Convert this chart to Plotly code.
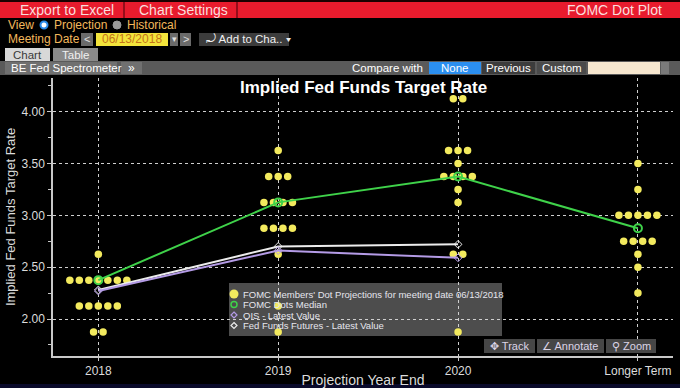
import plotly.graph_objects as go

# ---------------- data ----------------
categories = ["2018", "2019", "2020", "Longer Term"]
dots_2018 = [2.625, 2.375, 2.375, 2.375, 2.375, 2.375, 2.375, 2.375,
             2.125, 2.125, 2.125, 2.125, 2.125, 1.875, 1.875]
dots_2019 = [3.625, 3.375, 3.375, 3.375, 3.125, 3.125, 3.125, 3.125,
             2.875, 2.875, 2.875, 2.875, 2.625, 2.125, 1.875]
dots_2020 = [4.125, 4.125, 3.625, 3.625, 3.625, 3.5, 3.375, 3.375, 3.375, 3.375,
             3.25, 3.125, 2.625, 2.625, 1.875]
dots_longer = [3.5, 3.25, 3.0, 3.0, 3.0, 3.0, 3.0, 2.75, 2.75, 2.75, 2.75,
               2.625, 2.5, 2.25]
median_values = [2.375, 3.125, 3.375, 2.875]
ois_values = [2.27, 2.66, 2.59]
fff_values = [2.28, 2.70, 2.72]
ytick_values = [2.0, 2.5, 3.0, 3.5, 4.0]

legend_labels = ["FOMC Members' Dot Projections for meeting date 06/13/2018",
                 "FOMC Dots Median", "OIS - Latest Value",
                 "Fed Funds Futures - Latest Value"]

# ---------------- geometry ----------------
W, H = 680, 388
L, R, T, B = 53, 7, 78, 32
PW, PH = W - L - R, H - T - B
X_RANGE = [-0.252, 3.195]
Y_RANGE = [1.643, 4.325]
STEP = 9.5 * (X_RANGE[1] - X_RANGE[0]) / PW  # horizontal spacing of dots

def px(x):
    return (x - L) / PW

def py(y):
    return 1 - (y - T) / PH

FONT = "Liberation Sans"
YELLOW = "#f3ea5e"
GREEN = "#3fd24a"
WHITE_LINE = "#ececec"
PURPLE = "#b49be6"

# ---------------- dot positions ----------------
dot_x, dot_y = [], []
for ci, vals in enumerate([dots_2018, dots_2019, dots_2020, dots_longer]):
    counts = {}
    for v in vals:
        counts[v] = counts.get(v, 0) + 1
    for v, n in counts.items():
        for i in range(n):
            dot_x.append(ci + (i - (n - 1) / 2) * STEP)
            dot_y.append(v)

fig = go.Figure()
fig.add_trace(go.Scatter(x=dot_x, y=dot_y, mode="markers",
                         marker=dict(color=YELLOW, size=7.5, line=dict(width=0)),
                         name=legend_labels[0], hoverinfo="y"))
fig.add_trace(go.Scatter(x=list(range(3)), y=fff_values, mode="lines+markers",
                         line=dict(color=WHITE_LINE, width=2),
                         marker=dict(symbol="diamond-open", size=6, color=WHITE_LINE),
                         name=legend_labels[3]))
fig.add_trace(go.Scatter(x=list(range(3)), y=ois_values, mode="lines+markers",
                         line=dict(color=PURPLE, width=2),
                         marker=dict(symbol="diamond-open", size=6, color=PURPLE),
                         name=legend_labels[2]))
fig.add_trace(go.Scatter(x=list(range(4)), y=median_values, mode="lines+markers",
                         line=dict(color=GREEN, width=2),
                         marker=dict(symbol="circle-open", size=8, color=GREEN,
                                     line=dict(width=2)),
                         name=legend_labels[1]))

shapes = []
annotations = []

def rect(x0, y0, x1, y1, fill, line_color=None, layer="above"):
    shapes.append(dict(type="rect", xref="paper", yref="paper",
                       x0=px(x0), x1=px(x1), y0=py(y1), y1=py(y0),
                       fillcolor=fill, layer=layer,
                       line=dict(width=1 if line_color else 0,
                                 color=line_color or fill)))

def text(x, y, s, color="#ffffff", size=12, anchor="left", bold=False, family=FONT):
    if bold:
        s = "<b>" + s + "</b>"
    annotations.append(dict(xref="paper", yref="paper", x=px(x), y=py(y),
                            xanchor=anchor, yanchor="middle", text=s,
                            showarrow=False,
                            font=dict(color=color, size=size, family=family)))

def circle(x, y, r, fill, line_color, lw=1):
    shapes.append(dict(type="circle", xref="paper", yref="paper",
                       xsizemode="pixel", ysizemode="pixel",
                       xanchor=px(x), yanchor=py(y),
                       x0=-r, x1=r, y0=-r, y1=r,
                       fillcolor=fill, line=dict(color=line_color, width=lw)))

def diamond(x, y, r, color):
    shapes.append(dict(type="path", xref="paper", yref="paper",
                       xsizemode="pixel", ysizemode="pixel",
                       xanchor=px(x), yanchor=py(y),
                       path=f"M 0 {r} L {r} 0 L 0 {-r} L {-r} 0 Z",
                       fillcolor="rgba(0,0,0,0)", line=dict(color=color, width=1.2)))

# ---------------- header UI ----------------
rect(0, 0, 680, 2, "#1a0000")
rect(0, 2, 680, 18, "#e81b2d")
shapes.append(dict(type="line", xref="paper", yref="paper", x0=px(124), x1=px(124),
                   y0=py(2), y1=py(18), line=dict(color="#7a0a14", width=1.5)))
shapes.append(dict(type="line", xref="paper", yref="paper", x0=px(237), x1=px(237),
                   y0=py(2), y1=py(18), line=dict(color="#7a0a14", width=1.5)))
text(18, 10.5, "Export to Excel", "#fbdede", 14)
text(137, 10.5, "Chart Settings", "#fbdede", 14)
text(664, 10.5, "FOMC Dot Plot", "#fbdede", 14, anchor="right")

AMBER = "#f3b85c"
text(6, 25, "View", AMBER, 12)
circle(44, 25, 3.5, "#ffffff", "#2a8ae8", 2)
text(52, 25, "Projection", AMBER, 12)
circle(117, 25, 4, "#9a9a9a", "#9a9a9a", 1)
text(125, 25, "Historical", AMBER, 12)

text(6, 39, "Meeting Date", AMBER, 12)
rect(81, 33, 93, 46, "#6a6a6a")
text(87, 39.5, "&lt;", "#e0e0e0", 11, anchor="center")
rect(96, 33, 168, 46, "#f3e43c")
text(132, 39.5, "06/13/2018", "#c4741a", 12, anchor="center")
rect(170, 33, 178, 46, "#6a6a6a")
text(174, 39.5, "▾", "#e0e0e0", 9, anchor="center")
rect(180, 33, 191, 46, "#6a6a6a")
text(185.5, 39.5, "&gt;", "#e0e0e0", 11, anchor="center")
rect(199, 33, 289, 46, "#3c3c3c")
text(204, 39.5, "⤾ Add to Cha.. ▾", "#f0f0f0", 11.5)

rect(5, 48, 50, 61, "#d8d8d8")
text(27.5, 54.5, "Chart", "#3a3a3a", 11.5, anchor="center")
rect(53, 48, 98, 61, "#8a8a8a")
text(75.5, 54.5, "Table", "#f0f0f0", 11.5, anchor="center")

rect(0, 61, 680, 75, "#5a5a5a")
rect(5, 62, 117, 74, "#707070")
text(9, 68, "BE Fed Spectrometer", "#ffffff", 11.5)
rect(121, 62, 142, 74, "#707070")
text(131.5, 68, "»", "#ffffff", 12, anchor="center")
text(350, 68, "Compare with", "#ffffff", 11.5)
rect(429, 62, 481, 74, "#2b8ff0")
text(455, 68, "None", "#ffffff", 11.5, anchor="center")
rect(482, 62, 535, 74, "#3c3c3c")
text(508.5, 68, "Previous", "#ffffff", 11.5, anchor="center")
rect(537, 62, 586, 74, "#4a4a4a")
text(561.5, 68, "Custom", "#ffffff", 11.5, anchor="center")
rect(588, 62, 660, 74, "#f6e7cf")
rect(661, 62, 669, 74, "#7a7a7a")

# ---------------- chart title ----------------
text(363, 87, "Implied Fed Funds Target Rate", "#ffffff", 17, anchor="center", bold=True)

# ---------------- legend (manual) ----------------
rect(229, 283, 502, 336, "rgba(85,85,85,0.9)", layer="below")
legend_rows = [294, 304.5, 315, 325.5]
circle(234, legend_rows[0], 4.5, YELLOW, YELLOW, 0)
circle(234, legend_rows[1], 3, "rgba(0,0,0,0)", GREEN, 1.5)
diamond(234, legend_rows[2], 3, PURPLE)
diamond(234, legend_rows[3], 3, WHITE_LINE)
for yrow, lab in zip(legend_rows, legend_labels):
    text(241, yrow, lab, "#e6e6ee", 9.5)

# ---------------- Track / Annotate / Zoom ----------------
for x0, x1, lab in [(484, 535, "✥ Track"), (537, 604, "∠ Annotate"), (606, 656, "⚲ Zoom")]:
    rect(x0, 339, x1, 353, "#464646")
    text((x0 + x1) / 2, 346, lab, "#dcd4e6", 11, anchor="center")

# bottom strip
rect(0, 384, 680, 388, "#0a0a2a")

fig.update_layout(
    width=W, height=H,
    margin=dict(l=L, r=R, t=T, b=B, autoexpand=False),
    paper_bgcolor="#000000", plot_bgcolor="#000000",
    showlegend=False,
    shapes=shapes, annotations=annotations,
    font=dict(family=FONT, color="#d8d8d8"),
    xaxis=dict(range=X_RANGE, tickvals=list(range(len(categories))), ticktext=categories,
               showgrid=True, gridcolor="#cfcfcf", griddash="dot", gridwidth=1,
               zeroline=False, showline=True, linecolor="#c8c8c8", linewidth=1.5,
               ticks="outside", ticklen=3, tickcolor="#c8c8c8",
               tickfont=dict(size=12, color="#dcdcdc"),
               title=dict(text="Projection Year End", font=dict(size=14, color="#dcdcdc"),
                          standoff=1)),
    yaxis=dict(range=Y_RANGE, tickvals=ytick_values, tickformat=".2f",
               showgrid=True, gridcolor="#cfcfcf", griddash="dot", gridwidth=1,
               zeroline=False, showline=True, linecolor="#c8c8c8", linewidth=1.5,
               ticks="outside", ticklen=4, tickcolor="#c8c8c8",
               minor=dict(dtick=0.25, tick0=0, ticks="outside", ticklen=3,
                          tickcolor="#c8c8c8", showgrid=False),
               tickfont=dict(size=12, color="#dcdcdc"),
               title=dict(text="Implied Fed Funds Target Rate",
                          font=dict(size=13, color="#dcdcdc"), standoff=3)),
)

fig.write_html("out.html", config={"displayModeBar": False},
               post_script="document.body.style.margin='0';document.body.style.overflow='hidden';")
